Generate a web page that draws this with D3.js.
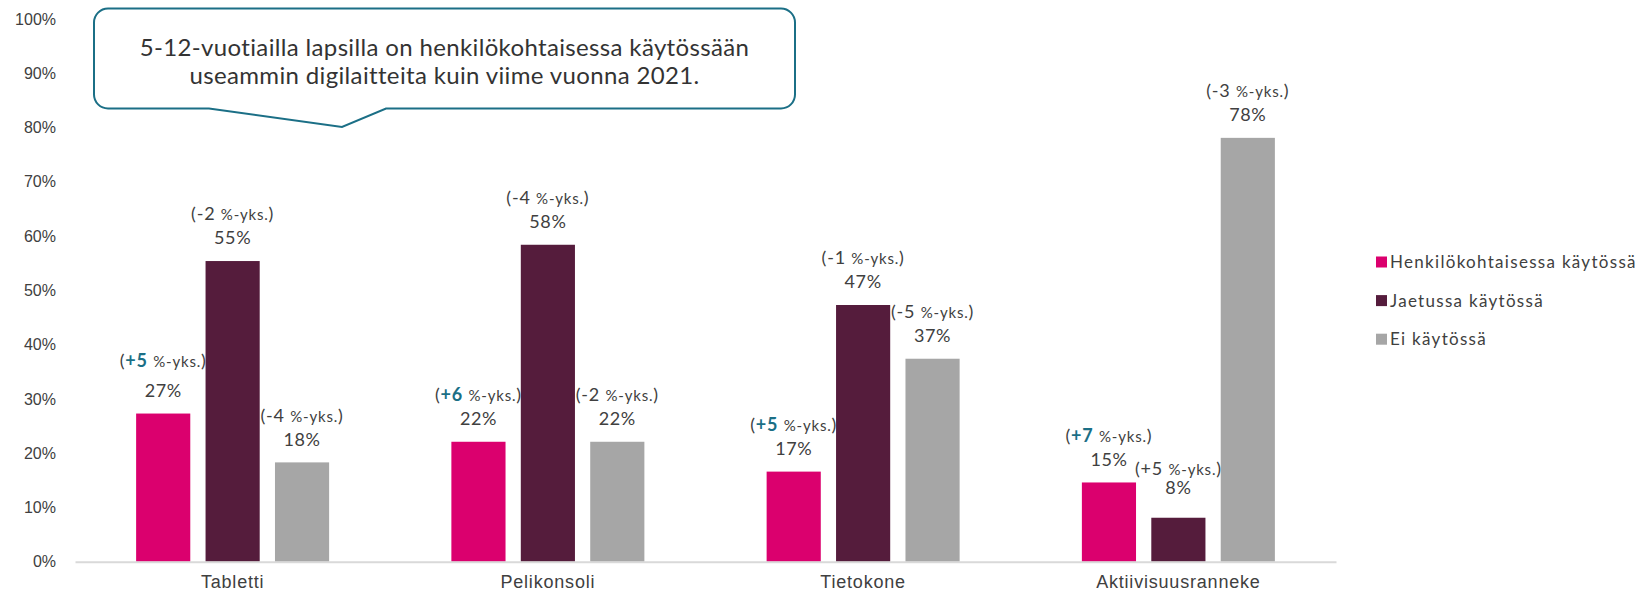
<!DOCTYPE html>
<html>
<head>
<meta charset="utf-8">
<script src="https://cdn.jsdelivr.net/npm/d3@7"></script>
<style>
  body { margin: 0; background: #fff; }
  svg { display: block; font-family: Lato, "Noto Sans", sans-serif; }
  .tick text { fill: #404040; font-size: 16px; }
  .xaxis .tick text { font-size: 18px; letter-spacing: 0.8px; }
</style>
</head>
<body>
<svg id="chart" width="1637" height="594"></svg>
<script>
// data
var categories = ['Tabletti', 'Pelikonsoli', 'Tietokone', 'Aktiivisuusranneke']
var seriesNames = ['Henkilökohtaisessa käytössä', 'Jaetussa käytössä', 'Ei käytössä']
var personal = [27.3, 22.1, 16.6, 14.6]
var shared = [55.4, 58.4, 47.3, 8.1]
var notUsed = [18.3, 22.1, 37.4, 78.1]
var personalChange = [5, 6, 5, 7]
var sharedChange = [-2, -4, -1, 5]
var notUsedChange = [-4, -2, -5, -3]
var yTicks = [0, 10, 20, 30, 40, 50, 60, 70, 80, 90, 100]
var calloutLines = [
  '5-12-vuotiailla lapsilla on henkilökohtaisessa käytössään',
  'useammin digilaitteita kuin viime vuonna 2021.'
]

var colors = ['#db006e', '#551c3c', '#a6a6a6']
var teal = '#1b6f86'
var textColor = '#404040'

var svg = d3.select('#chart')
var margin = { top: 19, right: 301, bottom: 32, left: 75 }
var width = 1637 - margin.left - margin.right
var height = 594 - margin.top - margin.bottom - 0.3

var g = svg.append('g').attr('transform', 'translate(' + margin.left + ',' + margin.top + ')')

var x0 = d3.scaleBand().domain(categories).range([0, width])
var groupWidth = 193
var x1 = d3.scaleBand().domain(d3.range(3)).range([0, groupWidth]).paddingInner(0.22)
var y = d3.scaleLinear().domain([0, 100]).range([height, 0])

var seriesValues = [personal, shared, notUsed]
var seriesChanges = [personalChange, sharedChange, notUsedChange]

var rows = []
categories.forEach(function(c, i) {
  seriesValues.forEach(function(vals, s) {
    rows.push({ cat: c, s: s, value: vals[i], change: seriesChanges[s][i] })
  })
})

// y axis
g.append('g')
  .call(d3.axisLeft(y).tickValues(yTicks).tickSize(0).tickPadding(19).tickFormat(function(d) { return d + '%' }))
  .call(function(a) { a.select('.domain').remove() })

// bars
function barX(d) {
  return x0(d.cat) + (x0.bandwidth() - groupWidth) / 2 + x1(d.s)
}

g.selectAll('rect.bar')
  .data(rows)
  .enter()
  .append('rect')
  .attr('class', 'bar')
  .attr('x', barX)
  .attr('width', x1.bandwidth())
  .attr('y', function(d) { return y(d.value) })
  .attr('height', function(d) { return height - y(d.value) })
  .attr('fill', function(d) { return colors[d.s] })

// x axis
g.append('g')
  .attr('class', 'xaxis')
  .attr('transform', 'translate(0,' + height + ')')
  .call(d3.axisBottom(x0).tickSize(0).tickPadding(14))
  .call(function(a) {
    a.select('.domain').attr('stroke', '#d9d9d9').attr('stroke-width', 2)
  })

// labels (small nudges where the original labels were moved by hand)
var nudges = {
  'Tabletti|0': [0, -6],
  'Aktiivisuusranneke|1': [-7, 5]
}

var labels = g.selectAll('g.lbl')
  .data(rows)
  .enter()
  .append('g')
  .attr('class', 'lbl')
  .attr('transform', function(d) {
    return 'translate(' + (barX(d) + x1.bandwidth() / 2) + ',' + y(d.value) + ')'
  })

labels.append('text')
  .attr('text-anchor', 'middle')
  .attr('y', function(d) {
    var n = nudges[d.cat + '|' + d.s] || [0, 0]
    return -23 + n[0]
  })
  .attr('dy', '0.35em')
  .attr('fill', textColor)
  .style('font-size', '18px')
  .style('letter-spacing', '0.6px')
  .text(function(d) { return Math.round(d.value) + '%' })

labels.each(function(d) {
  var n = nudges[d.cat + '|' + d.s] || [0, 0]
  var t = d3.select(this).append('text')
    .attr('text-anchor', 'middle')
    .attr('y', -47 + n[0] + n[1])
    .attr('dy', '0.35em')
    .attr('fill', textColor)
    .style('font-size', '18px')
    .style('letter-spacing', '0.8px')
  t.append('tspan').text('(')
  var num = (d.change > 0 ? '+' : '') + d.change
  t.append('tspan')
    .text(num)
    .attr('fill', d.s === 0 ? teal : textColor)
    .style('font-weight', d.s === 0 ? 'bold' : 'normal')
  t.append('tspan').text(' ')
  t.append('tspan').text('%-yks.').style('font-size', '15px')
  t.append('tspan').text(')')
})

// legend
var legend = svg.append('g').attr('transform', 'translate(1376,262)')
seriesNames.forEach(function(name, i) {
  var row = legend.append('g').attr('transform', 'translate(0,' + i * 38.6 + ')')
  row.append('rect')
    .attr('x', 0)
    .attr('y', -5.5)
    .attr('width', 11)
    .attr('height', 11)
    .attr('fill', colors[i])
  row.append('text')
    .attr('x', 14)
    .attr('dy', '0.35em')
    .attr('fill', textColor)
    .style('font-size', '17px')
    .style('letter-spacing', '1.3px')
    .text(name)
})

// callout
var bx = 94, by = 8.5, bw = 701, bh = 100, r = 14
var tip = [[209, by + bh], [342, 127], [386, by + bh]]
var p = d3.path()
p.moveTo(bx + r, by)
p.lineTo(bx + bw - r, by)
p.arcTo(bx + bw, by, bx + bw, by + r, r)
p.lineTo(bx + bw, by + bh - r)
p.arcTo(bx + bw, by + bh, bx + bw - r, by + bh, r)
p.lineTo(tip[2][0], tip[2][1])
p.lineTo(tip[1][0], tip[1][1])
p.lineTo(tip[0][0], tip[0][1])
p.lineTo(bx + r, by + bh)
p.arcTo(bx, by + bh, bx, by + bh - r, r)
p.lineTo(bx, by + r)
p.arcTo(bx, by, bx + r, by, r)
p.closePath()

svg.append('path')
  .attr('d', p.toString())
  .attr('fill', '#fff')
  .attr('stroke', teal)
  .attr('stroke-width', 2)

svg.append('g')
  .selectAll('text')
  .data(calloutLines)
  .enter()
  .append('text')
  .attr('x', bx + bw / 2)
  .attr('y', function(d, i) { return 48 + i * 28 })
  .attr('dy', '0.35em')
  .attr('text-anchor', 'middle')
  .attr('fill', '#333')
  .style('font-size', '24px')
  .style('letter-spacing', '0.35px')
  .text(function(d) { return d })
</script>
</body>
</html>
